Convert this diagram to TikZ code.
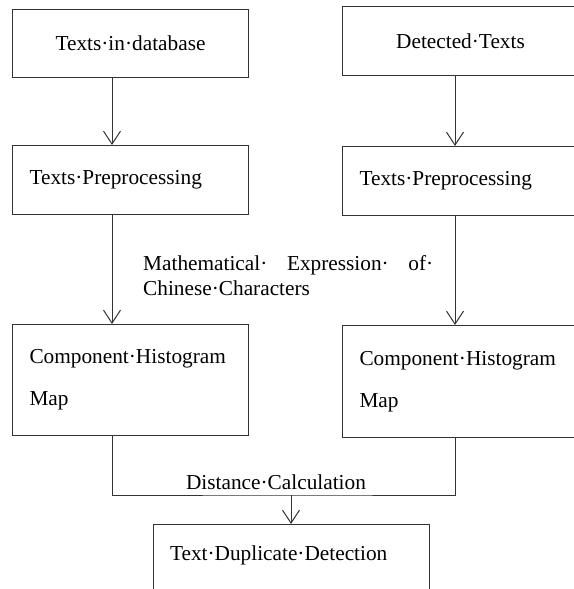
\documentclass[tikz,border=0pt]{standalone}
\usepackage{fontspec}
\setmainfont{Liberation Serif}
\usetikzlibrary{arrows.meta,positioning}

\begin{document}
\begin{tikzpicture}[x=1pt, y=-1pt,
        box/.style={draw=black!80, line width=1pt, anchor=north west,
          minimum width=236pt, inner sep=0pt,
          font=\fontsize{21.3}{25}\selectfont},
        lbox/.style={box, align=left, text width=202pt, inner xsep=17pt},
        note/.style={font=\fontsize{21.3}{25}\selectfont, inner sep=0pt},
        >={Straight Barb[length=13pt,width=17pt]}
      ]
        \useasboundingbox (0,0) rectangle (573,589);

        \node[box, minimum height=68pt] (db) at (12,9)
          {Texts·in·database};
        \node[box, minimum height=69pt] (det) at (342,6)
          {Detected·Texts};

        \node[lbox, minimum height=69pt] (pre1) at (12,145)
          {Texts·Preprocessing};
        \node[lbox, minimum height=69pt] (pre2) at (342,146)
          {Texts·Preprocessing};

        \node[lbox, minimum height=111pt,
          font=\fontsize{21.3}{42}\selectfont] (hist1) at (12,324)
          {Component·Histogram\\Map};
        \node[lbox, minimum height=112pt,
          font=\fontsize{21.3}{42}\selectfont] (hist2) at (342,325)
          {Component·Histogram\\Map};

        \node[lbox, anchor=north, minimum width=276pt, text width=242pt,
          text height=36pt, text depth=40pt] (dup) at (291,524)
          {Text·Duplicate·Detection};

        % Labels
        \node[note, anchor=west, align=left] (exprlbl) at (143,275.5)
          {\hbox to 290pt{Mathematical·\hfill Expression·\hfill of·}\\
           Chinese·Characters};
        \node[note] (distlbl) at (276,482) {Distance·Calculation};

        % Arrows
        \coordinate (lcol) at (112,0);
        \coordinate (rcol) at (455,0);
        \coordinate (join) at (291,495);
        \draw[->,line width=1pt,black!80] (db.south -| lcol) -- (pre1.north -| lcol);
        \draw[->,line width=1pt,black!80] (pre1.south -| lcol) -- (hist1.north -| lcol);
        \draw[->,line width=1pt,black!80] (det.south -| rcol) -- (pre2.north -| rcol);
        \draw[->,line width=1pt,black!80] (pre2.south -| rcol) -- (hist2.north -| rcol);
        \draw[line width=1pt,black!80] (hist1.south -| lcol) |- (join)
          -| (hist2.south -| rcol);
        \draw[->,line width=1pt,black!80] (join) -- (dup);
      \end{tikzpicture}
\end{document}
